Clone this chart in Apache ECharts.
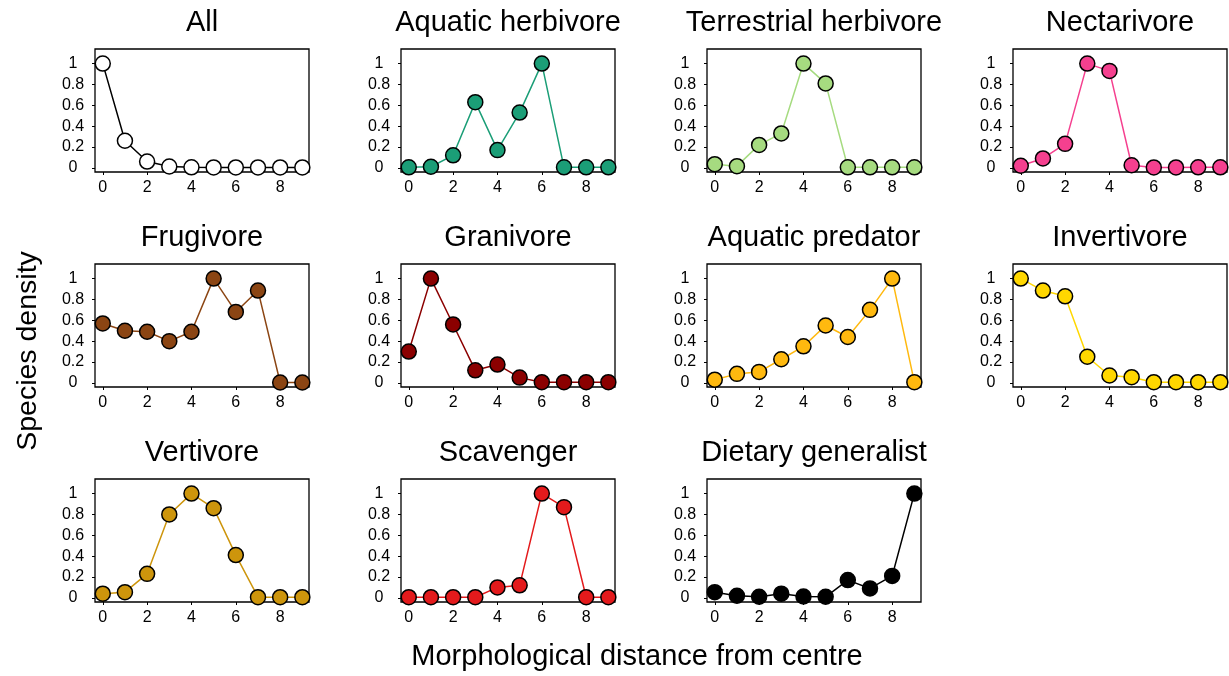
<!DOCTYPE html>
<html><head><meta charset="utf-8">
<script src="https://cdn.jsdelivr.net/npm/echarts@6/dist/echarts.min.js"></script>
<style>html,body{margin:0;padding:0;background:#fff}#c{width:1229px;height:676px}</style>
</head><body><div id="c"></div>
<script>
const distances = [0, 1, 2, 3, 4, 5, 6, 7, 8, 9];
const xTicks = [0, 2, 4, 6, 8];
const yTicks = [0, 0.2, 0.4, 0.6, 0.8, 1];
const panelNames = ["All", "Aquatic herbivore", "Terrestrial herbivore", "Nectarivore",
  "Frugivore", "Granivore", "Aquatic predator", "Invertivore",
  "Vertivore", "Scavenger", "Dietary generalist"];
const allGuilds        = [1, 0.26, 0.06, 0.013, 0.005, 0.004, 0.004, 0.004, 0.004, 0.004];
const aquaticHerbivore = [0.005, 0.01, 0.12, 0.63, 0.17, 0.53, 1, 0.005, 0.005, 0.005];
const terrestrialHerb  = [0.035, 0.016, 0.22, 0.33, 1, 0.81, 0.005, 0.005, 0.005, 0.005];
const nectarivore      = [0.02, 0.09, 0.23, 1, 0.93, 0.025, 0.004, 0.004, 0.005, 0.005];
const frugivore        = [0.57, 0.5, 0.49, 0.4, 0.49, 1, 0.68, 0.885, 0.003, 0.003];
const granivore        = [0.3, 1, 0.56, 0.12, 0.175, 0.05, 0.006, 0.006, 0.006, 0.006];
const aquaticPredator  = [0.03, 0.086, 0.105, 0.226, 0.35, 0.55, 0.44, 0.7, 1, 0.006];
const invertivore      = [1, 0.885, 0.83, 0.25, 0.07, 0.054, 0.006, 0.006, 0.006, 0.006];
const vertivore        = [0.04, 0.054, 0.23, 0.8, 1, 0.86, 0.41, 0.006, 0.006, 0.006];
const scavenger        = [0.006, 0.006, 0.006, 0.006, 0.1, 0.12, 1, 0.87, 0.006, 0.006];
const generalist       = [0.054, 0.02, 0.01, 0.04, 0.013, 0.01, 0.17, 0.09, 0.21, 1];
const panelValues = [allGuilds, aquaticHerbivore, terrestrialHerb, nectarivore,
  frugivore, granivore, aquaticPredator, invertivore, vertivore, scavenger, generalist];
const lineColors = ["#000000", "#1b9e77", "#a6db80", "#f5408f", "#8b4513", "#8b0000",
  "#ffb90f", "#ffd700", "#cd950c", "#e31a1c", "#000000"];
const fillColors = ["#ffffff", "#1b9e77", "#a6db80", "#f5408f", "#8b4513", "#8b0000",
  "#ffb90f", "#ffd700", "#cd950c", "#e31a1c", "#000000"];
const xTitle = "Morphological distance from centre";
const yTitle = "Species density";

const FONT = "'Liberation Sans', Arial, sans-serif";
const lefts = [95, 401, 707, 1013];
const tops = [49, 264, 479];
const W = 214, H = 123;

const grid = [], xAxis = [], yAxis = [], series = [], graphic = [];
panelNames.forEach((name, i) => {
  const col = i % 4, row = Math.floor(i / 4);
  grid.push({ left: lefts[col], top: tops[row], width: W, height: H, show: true,
    borderColor: '#000', borderWidth: 1.3, backgroundColor: 'transparent', containLabel: false });
  xAxis.push({ type: 'value', gridIndex: i, min: -0.35, max: 9.3, position: 'bottom',
    axisLine: { show: false, onZero: false }, splitLine: { show: false },
    axisTick: { show: true, inside: false, length: 3, customValues: xTicks, lineStyle: { color: '#000', width: 1 } },
    axisLabel: { customValues: xTicks, color: '#000', fontSize: 16, fontFamily: FONT, margin: 8 } });
  yAxis.push({ type: 'value', gridIndex: i, min: -0.04, max: 1.14, position: 'left',
    axisLine: { show: false, onZero: false }, splitLine: { show: false },
    axisTick: { show: true, inside: false, length: 3, customValues: yTicks, lineStyle: { color: '#000', width: 1 } },
    axisLabel: { customValues: yTicks, color: '#000', fontSize: 16, fontFamily: FONT, margin: 22, align: 'center',
      formatter: v => String(Math.round(v * 10) / 10) } });
  series.push({ type: 'line', xAxisIndex: i, yAxisIndex: i, clip: false,
    data: distances.map((d, k) => [d, panelValues[i][k]]),
    lineStyle: { color: lineColors[i], width: 1.5 },
    symbol: 'circle', symbolSize: 15,
    itemStyle: { color: fillColors[i], borderColor: '#000', borderWidth: 1.5 },
    emphasis: { disabled: true }, z: 3 });
  graphic.push({ type: 'text', x: lefts[col] + W / 2, y: tops[row] - 26,
    style: { text: name, font: `29px ${FONT}`, fill: '#000', align: 'center', verticalAlign: 'middle' } });
});
graphic.push({ type: 'text', x: 637, y: 657,
  style: { text: xTitle, font: `29px ${FONT}`, fill: '#000', align: 'center', verticalAlign: 'middle' } });
graphic.push({ type: 'text', x: 28, y: 351, rotation: Math.PI / 2,
  style: { text: yTitle, font: `28.5px ${FONT}`, fill: '#000', align: 'center', verticalAlign: 'middle' } });

const chart = echarts.init(document.getElementById('c'), null, { renderer: 'canvas' });
chart.setOption({ animation: false, backgroundColor: '#fff', grid, xAxis, yAxis, series, graphic });
</script></body></html>
